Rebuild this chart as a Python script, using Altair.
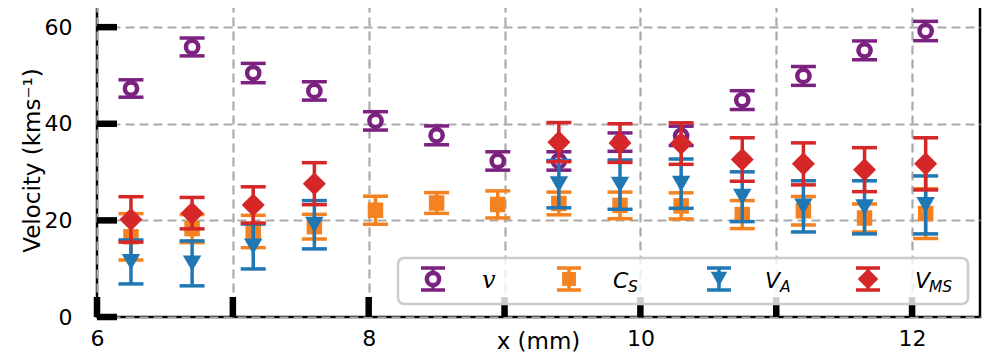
import altair as alt
import pandas as pd

# ---------------- data ----------------
x_mm = [6.25, 6.70, 7.15, 7.60, 8.05, 8.50, 8.95, 9.40, 9.85, 10.30, 10.75, 11.20, 11.65, 12.10]

v_vals = [47.3, 55.9, 50.5, 46.8, 40.6, 37.6, 32.3, 32.3, 36.2, 37.5, 44.9, 49.9, 55.2, 59.2]
v_err = [1.8, 1.85, 2.0, 1.9, 1.9, 1.95, 1.9, 1.9, 1.9, 2.0, 1.95, 1.95, 1.95, 2.0]

cs_vals = [16.6, 18.3, 17.7, 18.7, 22.1, 23.6, 23.3, 23.5, 23.1, 23.0, 21.2, 22.0, 20.5, 21.4]
cs_err = [4.8, 2.9, 3.35, 2.55, 2.9, 2.15, 2.8, 2.35, 2.75, 2.7, 2.9, 2.95, 2.9, 5.15]

va_vals = [11.4, 11.1, 14.6, 19.1, None, None, None, 27.5, 27.4, 27.6, 24.9, 22.9, 22.7, 23.2]
va_err = [4.55, 4.65, 4.65, 5.0, None, None, None, 4.9, 5.1, 5.1, 5.15, 5.3, 5.5, 6.0]

vms_vals = [20.2, 21.5, 23.2, 27.6, None, None, None, 36.2, 36.0, 35.9, 32.6, 31.7, 30.5, 31.7]
vms_err = [4.7, 3.25, 3.75, 4.35, None, None, None, 4.05, 4.0, 4.3, 4.5, 4.35, 4.55, 5.4]

series_keys = ["v", "C_S", "V_A", "V_MS"]
series_colors = ["#7b2281", "#f58220", "#1f77b4", "#d62728"]
series_shapes = ["circle", "square", "triangle-down", "diamond"]
series_sizes = [150, 240, 340, 530]

x_ticks = [6, 7, 8, 9, 10, 11, 12]
y_ticks = [0, 20, 40, 60]
x_domain = [6, 12.5]
y_domain = [0, 65]

W, H = 883, 314
FONT = "DejaVu Sans"

xs = alt.Scale(domain=x_domain, nice=False, zero=False)
ys = alt.Scale(domain=y_domain, nice=False, zero=False)

one = pd.DataFrame({"a": [0]})

GRID = dict(grid=True, gridColor="#aaaaaa", gridDash=[9, 5], gridWidth=2.2)

# ---------------- axes (grid + labels) with inward ticks drawn as rules ----------------
x_axis = alt.Axis(
    values=x_ticks,
    labelExpr="datum.value % 2 == 0 ? datum.label : ''",
    ticks=False, domain=False,
    labelFont=FONT, labelFontSize=22, labelColor="black", labelPadding=11,
    labelFlush=False, labelOverlap=False,
    title="x (mm)", titleFont=FONT, titleFontSize=23, titleFontWeight="normal",
    titleColor="black", titleX=441, titleY=31, titleAlign="center",
    titleBaseline="alphabetic", titleAngle=0,
    **GRID,
)
y_axis = alt.Axis(
    values=y_ticks,
    ticks=False, domain=False,
    labelFont=FONT, labelFontSize=22, labelColor="black", labelPadding=25,
    title="Velocity (kms⁻¹)", titleFont=FONT, titleFontSize=23,
    titleFontWeight="normal", titleColor="black", titleX=-65, titleY=H / 2,
    titleAlign="center", titleBaseline="middle", titleAngle=270,
    **GRID,
)


def X(field):
    return alt.X(field, scale=xs, axis=x_axis)


def Y(field):
    return alt.Y(field, scale=ys, axis=y_axis)


xt_df = pd.DataFrame({"x": x_ticks})
yt_df = pd.DataFrame({"y": y_ticks})

x_tick_layer = alt.Chart(xt_df).mark_rule(color="black", strokeWidth=6.5).encode(
    x=X("x:Q"),
    y=alt.value(H), y2=alt.value(H - 20),
)
y_tick_layer = alt.Chart(yt_df).mark_rule(color="black", strokeWidth=6.5).encode(
    y=Y("y:Q"),
    x=alt.value(0), x2=alt.value(20),
)

layers = [x_tick_layer, y_tick_layer]

# ---------------- error-bar series ----------------
all_vals = [v_vals, cs_vals, va_vals, vms_vals]
all_errs = [v_err, cs_err, va_err, vms_err]

for key, col, shp, sz, vals, errs in zip(series_keys, series_colors, series_shapes,
                                         series_sizes, all_vals, all_errs):
    rows = [(xx, yy, yy - ee, yy + ee) for xx, yy, ee in zip(x_mm, vals, errs) if yy is not None]
    df = pd.DataFrame(rows, columns=["x", "y", "lo", "hi"])
    bar = alt.Chart(df).mark_rule(color=col, strokeWidth=3.5).encode(
        x=X("x:Q"), y=Y("lo:Q"), y2="hi:Q")
    cap_lo = alt.Chart(df).mark_rule(color=col, strokeWidth=3.5, xOffset=-12.5, x2Offset=12.5).encode(
        x=X("x:Q"), x2="x:Q", y=Y("lo:Q"))
    cap_hi = alt.Chart(df).mark_rule(color=col, strokeWidth=3.5, xOffset=-12.5, x2Offset=12.5).encode(
        x=X("x:Q"), x2="x:Q", y=Y("hi:Q"))
    if key == "v":
        pt = alt.Chart(df).mark_point(shape=shp, size=sz, filled=False, fill="white",
                                      fillOpacity=1, stroke=col, strokeWidth=4.5, opacity=1).encode(
            x=X("x:Q"), y=Y("y:Q"))
    else:
        pt = alt.Chart(df).mark_point(shape=shp, size=sz, filled=True, color=col,
                                      opacity=1, strokeWidth=0).encode(
            x=X("x:Q"), y=Y("y:Q"))
    layers += [bar, cap_lo, cap_hi, pt]

# ---------------- legend (drawn manually) ----------------
legend_box = alt.Chart(one).mark_rect(
    cornerRadius=6, fill="white", fillOpacity=0.8, stroke="#cccccc", strokeWidth=2.5
).encode(x=alt.value(301), x2=alt.value(871), y=alt.value(255), y2=alt.value(301))
layers.append(legend_box)

leg_marker_x = [336, 472, 622, 771]
leg_cy = 276
leg_half = 11
for key, col, shp, sz, mx in zip(series_keys, series_colors, series_shapes, series_sizes, leg_marker_x):
    layers.append(alt.Chart(one).mark_rule(color=col, strokeWidth=3.5).encode(
        x=alt.value(mx), y=alt.value(leg_cy - leg_half), y2=alt.value(leg_cy + leg_half)))
    for dy in (-leg_half, leg_half):
        layers.append(alt.Chart(one).mark_rule(color=col, strokeWidth=3.5).encode(
            x=alt.value(mx - 12), x2=alt.value(mx + 12), y=alt.value(leg_cy + dy)))
    if key == "v":
        layers.append(alt.Chart(one).mark_point(shape=shp, size=sz, filled=False, fill="white",
                                                fillOpacity=1, stroke=col, strokeWidth=4.5,
                                                opacity=1).encode(
            x=alt.value(mx), y=alt.value(leg_cy)))
    else:
        layers.append(alt.Chart(one).mark_point(shape=shp, size=sz * 0.8, filled=True, color=col,
                                                opacity=1, strokeWidth=0).encode(
            x=alt.value(mx), y=alt.value(leg_cy)))

# legend labels: main symbol + subscript
leg_main = [("v", 385, "DejaVu Serif", 24), ("C", 516, FONT, 22), ("V", 668, FONT, 22), ("V", 818, FONT, 22)]
leg_sub = [("", 0), ("S", 531), ("A", 683), ("MS", 832)]
for (txt, tx, fnt, fs), (stxt, sx) in zip(leg_main, leg_sub):
    layers.append(alt.Chart(one).mark_text(
        text=txt, font=fnt, fontSize=fs, fontStyle="italic", align="left",
        baseline="alphabetic", color="black").encode(x=alt.value(tx), y=alt.value(285)))
    if stxt:
        layers.append(alt.Chart(one).mark_text(
            text=stxt, font=FONT, fontSize=15.5, fontStyle="italic", align="left",
            baseline="alphabetic", color="black").encode(x=alt.value(sx), y=alt.value(289)))

chart = alt.layer(*layers).properties(
    width=W, height=H,
    background="white",
    autosize=alt.AutoSizeParams(type="none"),
    padding={"left": 89, "top": -5, "right": 16, "bottom": 38},
).configure_view(
    stroke="black", strokeWidth=2.5
)

chart.save("out.html", embed_options={"renderer": "svg", "actions": False})
